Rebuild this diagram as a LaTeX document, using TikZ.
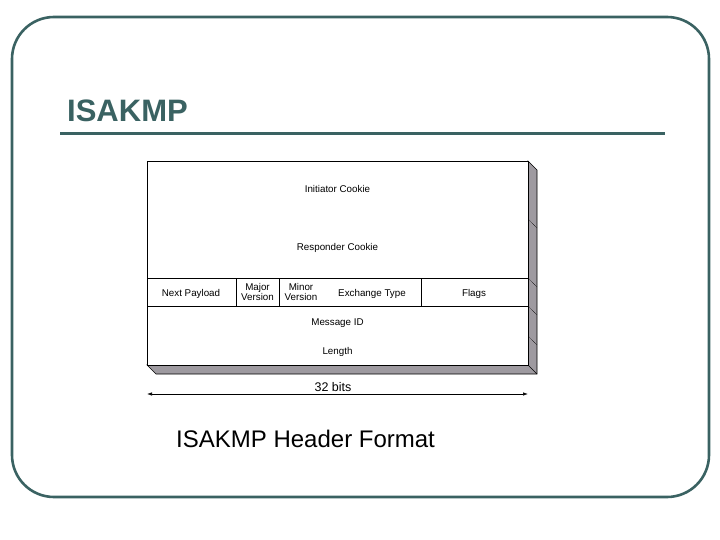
\documentclass[tikz,border=0pt]{standalone}
\usepackage{fontspec}
\setmainfont{Liberation Sans}
\usetikzlibrary{arrows.meta}
\definecolor{slideteal}{RGB}{58,98,98}
\definecolor{shadegray}{RGB}{158,154,160}
\tikzset{
  fieldtext/.style={font=\fontsize{9.8}{10.5}\selectfont, inner sep=0pt, align=center},
  fieldline/.style={line width=0.6pt}
}
\begin{document}
\begin{tikzpicture}[x=1pt,y=-1pt]
\useasboundingbox (0,0) rectangle (720,540);
% slide frame and title
\draw[slideteal, line width=2.6pt, rounded corners=42pt] (12,17) rectangle (709,497);
\node[anchor=base west, inner sep=0pt, text=slideteal, font=\fontsize{31}{31}\selectfont\bfseries] (title) at (67,121.5) {ISAKMP};
\coordinate (rule0) at (60,134);
\coordinate (rule1) at (665,134);
\draw[slideteal, line width=3pt] (rule0) -- (rule1);

% header box corners
\coordinate (nw) at (147,161);
\coordinate (ne) at (528,161);
\coordinate (se) at (528,365);
\coordinate (sw) at (147,365);
% shadow
\draw[fieldline, fill=shadegray] (ne) -- (537,170) -- (537,374) -- (156,374) -- (sw) -- (se) -- cycle;
\draw[fieldline] (se) -- (537,374);
\foreach \y in {219,278,306,336}
  \draw[densely dotted, line width=0.5pt] (528,\y) -- (537,\y+9);
\draw[fieldline, fill=white] (nw) rectangle (se);

% field rows
\draw[fieldline] (147,278) -- (528,278);
\draw[fieldline] (147,306) -- (528,306);
\draw[fieldline] (236,278) -- (236,306);
\draw[fieldline] (279,278) -- (279,306);
\draw[fieldline] (421,278) -- (421,306);

\node[fieldtext, anchor=base] (icookie) at (337.5,193) {Initiator Cookie};
\node[fieldtext, anchor=base] (rcookie) at (337.5,251) {Responder Cookie};
\node[fieldtext, anchor=base] (nextp) at (191,296) {Next Payload};
\node[fieldtext] (majorv) at (257.5,292) {Major\\Version};
\node[fieldtext] (minorv) at (301,292) {Minor\\Version};
\node[fieldtext, anchor=base] (exch) at (372,296) {Exchange Type};
\node[fieldtext, anchor=base] (flags) at (474,296) {Flags};
\node[fieldtext, anchor=base] (msgid) at (337.5,325) {Message ID};
\node[fieldtext, anchor=base] (len) at (337.5,354) {Length};

% width arrow
\coordinate (w0) at (147,394);
\coordinate (w1) at (528,394);
\draw[{Latex[length=5pt,width=3.5pt]}-{Latex[length=5pt,width=3.5pt]}, line width=0.7pt] (w0) -- (w1);
\node[inner sep=0pt, anchor=base, font=\fontsize{12.5}{13}\selectfont] (bits) at (333,391.5) {32 bits};

\node[anchor=base west, inner sep=0pt, font=\fontsize{24}{24}\selectfont] (caption) at (176,447) {ISAKMP Header Format};
\end{tikzpicture}
\end{document}
